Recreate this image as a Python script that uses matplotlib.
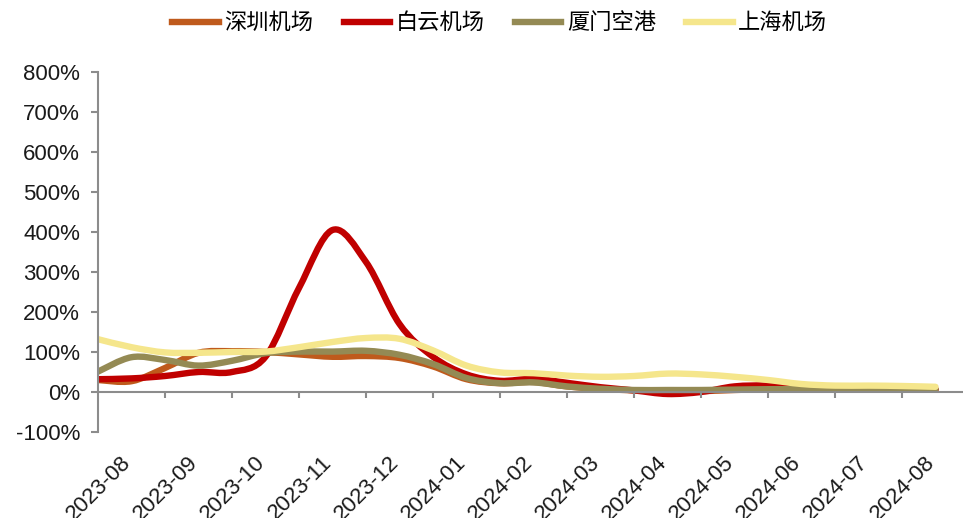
import numpy as np
import matplotlib
matplotlib.use("Agg")
import matplotlib.pyplot as plt
from matplotlib.path import Path
from matplotlib.patches import PathPatch
from matplotlib.lines import Line2D

plt.rcParams['font.family'] = ['Liberation Sans', 'Noto Sans CJK SC', 'DejaVu Sans']

months = ['2023-08', '2023-09', '2023-10', '2023-11', '2023-12', '2024-01', '2024-02',
          '2024-03', '2024-04', '2024-05', '2024-06', '2024-07', '2024-08']

# sample positions in months (0 = left edge of the 2023-08 slot), half-month steps
pos = [0, 0.5, 1, 1.5, 2, 2.5, 3, 3.5, 4, 4.5, 5, 5.5, 6, 6.5, 7, 7.5, 8, 8.5,
       9, 9.5, 10, 10.5, 11, 11.5, 12, 12.5]

# values in % (1.0 = 100%)
shenzhen = [0.30, 0.27, 0.60, 0.98, 1.02, 1.00, 0.94, 0.88, 0.90, 0.85, 0.64, 0.32, 0.22,
            0.25, 0.14, 0.08, 0.04, 0.01, 0.02, 0.05, 0.07, 0.07, 0.07, 0.07, 0.07, 0.07]
baiyun = [0.32, 0.34, 0.40, 0.50, 0.50, 0.88, 2.60, 4.05, 3.25, 1.70, 0.88, 0.44, 0.28,
          0.33, 0.23, 0.12, 0.04, -0.05, 0.00, 0.14, 0.16, 0.09, 0.07, 0.06, 0.06, 0.06]
xiamen = [0.51, 0.87, 0.80, 0.66, 0.78, 0.97, 1.01, 1.01, 1.03, 0.93, 0.70, 0.35, 0.22,
          0.24, 0.14, 0.08, 0.05, 0.05, 0.05, 0.06, 0.07, 0.07, 0.07, 0.07, 0.07, 0.07]
shanghai = [1.32, 1.12, 0.99, 0.98, 1.00, 1.01, 1.12, 1.25, 1.35, 1.33, 1.04, 0.66, 0.49,
            0.47, 0.41, 0.38, 0.40, 0.46, 0.44, 0.38, 0.30, 0.20, 0.16, 0.16, 0.15, 0.13]

names = ['深圳机场', '白云机场', '厦门空港', '上海机场']
colors = ['#BF5A1C', '#C00000', '#948A54', '#F5E68C']
series = [shenzhen, baiyun, xiamen, shanghai]


def smooth_path(xs, ys):
    # Catmull-Rom style bezier path, like a spreadsheet smoothed line
    p = np.column_stack([xs, ys]).astype(float)
    n = len(p)
    verts = [p[0]]
    codes = [Path.MOVETO]
    for i in range(n - 1):
        p0 = p[i - 1] if i > 0 else p[i]
        p3 = p[i + 2] if i + 2 < n else p[i + 1]
        c1 = p[i] + (p[i + 1] - p0) / 6
        c2 = p[i + 1] - (p3 - p[i]) / 6
        verts += [c1, c2, p[i + 1]]
        codes += [Path.CURVE4] * 3
    return Path(verts, codes)


fig = plt.figure(figsize=(9.63, 5.18), dpi=100)
ax = fig.add_axes([98 / 963, 86 / 518, 865 / 963, 360 / 518])

for vals, c, name in zip(series, colors, names):
    patch = PathPatch(smooth_path(pos, vals), facecolor='none', edgecolor=c,
                      lw=4.6, capstyle='round', joinstyle='round')
    ax.add_patch(patch)

ax.set_xlim(0, 865 / 67)
ax.set_ylim(-1, 8)

axcol = '#8C8C8C'
for s in ['top', 'right']:
    ax.spines[s].set_visible(False)
ax.spines['left'].set_color(axcol)
ax.spines['left'].set_linewidth(1.5)
ax.spines['bottom'].set_color(axcol)
ax.spines['bottom'].set_linewidth(1.5)
ax.spines['bottom'].set_position(('data', 0))

ax.set_yticks(np.arange(-1, 9))
ax.set_yticklabels([f'{v * 100}%' for v in range(-1, 9)], fontsize=16, color='#1a1a1a')
ax.tick_params(axis='y', length=5, width=1.5, color=axcol, pad=8)

ax.set_xticks(np.arange(1, 13))
ax.set_xticklabels([])
ax.tick_params(axis='x', length=4, width=1.5, color=axcol)

for i, m in enumerate(months):
    ax.annotate(m, xy=(i + 0.5, 0), xycoords=('data', 'axes fraction'),
                xytext=(-3, -20), textcoords='offset points',
                rotation=45, rotation_mode='anchor', ha='right', va='center',
                fontsize=16, color='#1a1a1a', annotation_clip=False)

handles = [Line2D([], [], color=c, lw=4.6) for c in colors]
fig.legend(handles, names, loc='center', bbox_to_anchor=(0.519, 0.956), ncol=4,
           frameon=False, prop={'family': ['Noto Sans CJK SC', 'DejaVu Sans'], 'size': 16},
           handlelength=2.1, handletextpad=0.25, columnspacing=1.35)

fig.savefig('out.png', dpi=100)
